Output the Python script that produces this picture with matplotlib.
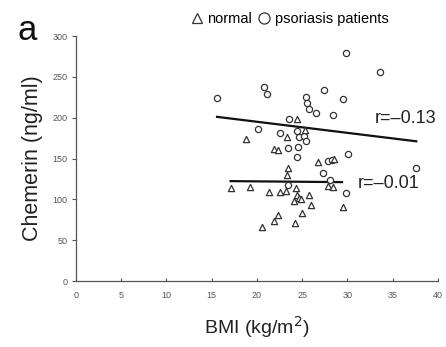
import numpy as np
import matplotlib
matplotlib.use('Agg')
import matplotlib.pyplot as plt
from matplotlib.lines import Line2D

plt.rcParams['font.family'] = ['Liberation Sans', 'DejaVu Sans']

# psoriasis patients (circles)
pso_bmi = [15.6, 20.8, 21.1, 20.1, 22.6, 23.5, 24.4, 24.7, 25.2, 25.4,
           23.4, 24.5, 24.4, 25.4, 25.5, 25.7, 26.5, 28.4, 27.4, 29.5,
           29.8, 33.6, 30.1, 27.8, 28.3, 27.3, 37.6, 28.1, 29.8, 23.4]
pso_chem = [224, 238, 229, 186, 181, 198, 184, 176, 178, 172,
            163, 164, 152, 225, 218, 211, 206, 203, 234, 223,
            279, 256, 155, 147, 148, 132, 138, 124, 108, 118]

# normal controls (triangles)
nor_bmi = [17.1, 19.2, 21.3, 22.6, 23.2, 24.3, 24.4, 24.7, 24.1, 25.8,
           26.0, 25.0, 22.3, 21.9, 20.6, 24.2, 27.8, 28.4, 29.5, 26.7,
           28.5, 23.4, 23.3, 18.8, 21.9, 22.3, 24.4, 23.3, 25.3, 24.9]
nor_chem = [114, 115, 109, 109, 110, 114, 105, 102, 98, 105,
            93, 83, 81, 73, 66, 71, 116, 115, 91, 146,
            149, 138, 130, 174, 162, 160, 198, 176, 185, 100]

# regression lines: (x range, slope, intercept)
pso_fit = dict(x=[15.6, 37.6], slope=-1.36, icpt=222.3)
nor_fit = dict(x=[17.1, 29.4], slope=-0.10, icpt=124.1)

fig = plt.figure(figsize=(4.46, 3.47), dpi=100)
ax = fig.add_axes([0.170, 0.190, 0.812, 0.706])

mk = dict(s=20, facecolors='white', edgecolors='#333333', linewidths=0.9, zorder=3)
ax.scatter(pso_bmi, pso_chem, marker='o', **mk)
ax.scatter(nor_bmi, nor_chem, marker='^', **mk)

for f in (pso_fit, nor_fit):
    xs = np.array(f['x'])
    ax.plot(xs, f['slope'] * xs + f['icpt'], color='#111111', lw=1.6, zorder=2)

ax.text(33.0, 199, 'r=\u20130.13', fontsize=13, va='center', color='#222222')
ax.text(31.1, 120, 'r=\u20130.01', fontsize=13, va='center', color='#222222')

ax.set_xlim(0, 40)
ax.set_ylim(0, 300)
ax.set_xticks(np.arange(0, 41, 5))
ax.set_yticks(np.arange(0, 301, 50))
ax.spines['top'].set_visible(False)
ax.spines['right'].set_visible(False)
for s in ('left', 'bottom'):
    ax.spines[s].set_color('#555555')
    ax.spines[s].set_linewidth(0.9)
ax.tick_params(axis='x', direction='in', length=2, width=0.8, pad=7,
               labelsize=6.5, colors='#555555')
ax.tick_params(axis='y', direction='out', length=3, width=0.8, pad=3,
               labelsize=6.5, colors='#555555')

ax.set_xlabel('BMI (kg/m$^2$)', fontsize=14, labelpad=10, color='#222222')
ax.set_ylabel('Chemerin (ng/ml)', fontsize=15.5, labelpad=7, color='#222222')

handles = [Line2D([], [], marker='^', ls='none', mfc='white', mec='#333333', ms=7, mew=0.9),
           Line2D([], [], marker='o', ls='none', mfc='white', mec='#333333', ms=8, mew=0.9)]
fig.legend(handles, ['normal', 'psoriasis patients'], loc='center',
           bbox_to_anchor=(0.648, 0.945), ncol=2, frameon=False, fontsize=10.5,
           handletextpad=0.25, columnspacing=0.3, handlelength=1.0)

fig.text(0.04, 0.96, 'a', fontsize=25, va='top', ha='left', color='#111111')

fig.savefig('out.png', dpi=100)
